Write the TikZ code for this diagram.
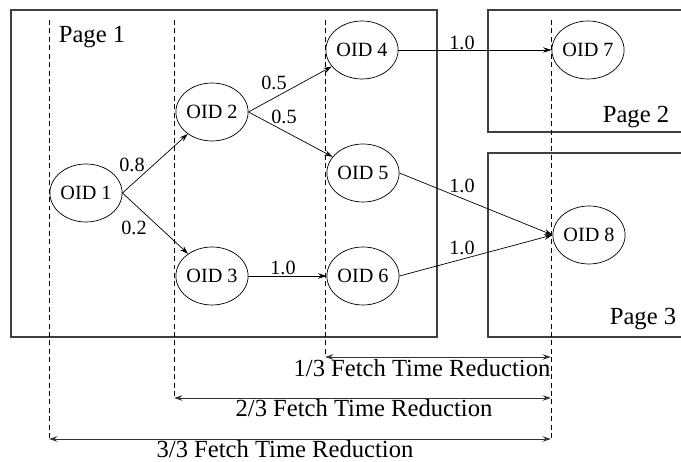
\documentclass[tikz,border=0pt]{standalone}
\usepackage{fontspec}
\setmainfont{Liberation Serif}
\usetikzlibrary{arrows.meta, shapes.geometric}

\begin{document}
\begin{tikzpicture}[
    x=0.02cm, y=-0.02cm,
    oid/.style={ellipse, draw, inner sep=0pt, minimum width=1.44cm, minimum height=1.16cm, font=\fontsize{11.5}{13}\selectfont},
    wt/.style={inner sep=0pt, font=\fontsize{11.5}{13}\selectfont},
    page/.style={draw=black!75, line width=0.8pt},
    pagelabel/.style={anchor=base, inner sep=0pt, font=\fontsize{14}{16}\selectfont},
    arrow/.style={-{Stealth[length=1.7mm, width=1.1mm, inset=0.6mm]}, line width=0.4pt},
    guide/.style={line width=0.4pt, dash pattern=on 2.8pt off 2pt},
    span/.style={{Stealth[length=1.7mm, width=1.1mm, inset=0.6mm]}-{Stealth[length=1.7mm, width=1.1mm, inset=0.6mm]}, line width=0.5pt, draw=black!80},
    spanlabel/.style={anchor=base, inner sep=0pt, font=\fontsize{14}{16}\selectfont}
  ]

    \useasboundingbox (0,0) rectangle (681,462);

    % pages
    \draw[page] (11,10) rectangle (437,337);
    \draw[page] (681,10) -- (488,10) -- (488,132) -- (681,132);
    \draw[page] (681,153) -- (488,153) -- (488,337) -- (681,337);
    \node[pagelabel] (page1) at (92,43) {Page 1};
    \node[pagelabel] (page2) at (636,123) {Page 2};
    \node[pagelabel] (page3) at (643,325) {Page 3};

    % objects
    \node[oid] (oid1) at (86,193) {OID 1};
    \node[oid] (oid2) at (212,112) {OID 2};
    \node[oid] (oid3) at (212,276) {OID 3};
    \node[oid] (oid4) at (362,50) {OID 4};
    \node[oid] (oid5) at (363,173) {OID 5};
    \node[oid] (oid6) at (363,276) {OID 6};
    \node[oid] (oid7) at (588,50) {OID 7};
    \node[oid] (oid8) at (589,235) {OID 8};

    % references with probabilities
    \draw[arrow] (oid1.east) -- (oid2);
    \draw[arrow] (oid1.east) -- (oid3);
    \draw[arrow] (oid2.east) -- (oid4);
    \draw[arrow] (oid2.east) -- (oid5);
    \draw[arrow] (oid3) -- (oid6);
    \draw[arrow] (oid4) -- (oid7.west);
    \draw[arrow] (oid5.east) -- (oid8.west);
    \draw[arrow] (oid6.east) -- (oid8.west);

    \node[wt] (w12) at (132,165) {0.8};
    \node[wt] (w13) at (134,228) {0.2};
    \node[wt] (w24) at (274,83) {0.5};
    \node[wt] (w25) at (284,117) {0.5};
    \node[wt] (w36) at (283,268) {1.0};
    \node[wt] (w47) at (462,43) {1.0};
    \node[wt] (w58) at (462,186) {1.0};
    \node[wt] (w68) at (462,248) {1.0};

    % prefetch levels
    \coordinate (g1t) at (49,20);  \coordinate (g1b) at (49,439);
    \coordinate (g2t) at (174,20); \coordinate (g2b) at (174,398);
    \coordinate (g3t) at (325,20); \coordinate (g3b) at (325,357);
    \coordinate (g4t) at (551,20); \coordinate (g4b) at (551,439);
    \draw[guide] (g1t) -- (g1b);
    \draw[guide] (g2t) -- (g2b);
    \draw[guide] (g3t) -- (g3b);
    \draw[guide] (g4t) -- (g4b);

    \draw[span] (g3b) -- (g3b -| g4b);
    \draw[span] (g2b) -- (g2b -| g4b);
    \draw[span] (g1b) -- (g4b);
    \node[spanlabel] (red1) at (422,377) {1/3 Fetch Time Reduction};
    \node[spanlabel] (red2) at (364,417) {2/3 Fetch Time Reduction};
    \node[spanlabel] (red3) at (285,458) {3/3 Fetch Time Reduction};

\end{tikzpicture}
\end{document}
